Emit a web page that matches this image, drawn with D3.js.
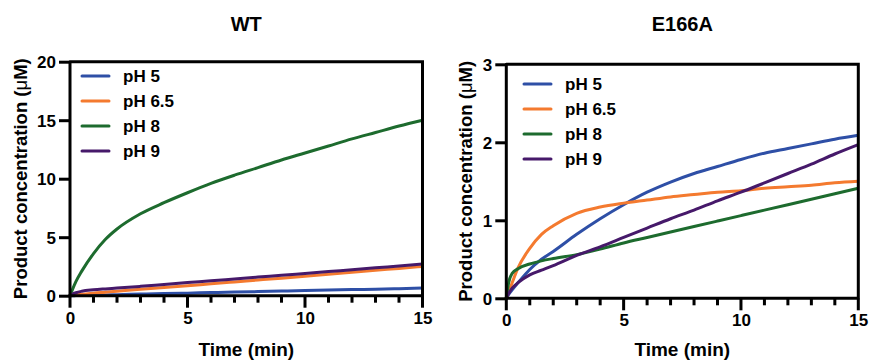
<!DOCTYPE html>
<html>
<head>
<meta charset="utf-8">
<script src="https://cdn.jsdelivr.net/npm/d3@7"></script>
<style>
  body { margin: 0; background: #fff; }
  svg { font-family: "Liberation Sans", Arial, sans-serif; }
</style>
</head>
<body>
<svg id="chart" width="869" height="363"></svg>
<script>
// sampling times (min)
const times = [0, 0.1, 0.25, 0.5, 1, 1.5, 2, 3, 4, 5, 6, 7, 8, 9, 10, 11, 12, 13, 14, 15];
const seriesNames = ["pH 5", "pH 6.5", "pH 8", "pH 9"];
const seriesColors = ["#2e4fa6", "#f47a2f", "#1d6b2e", "#46196a"];

// WT, product (uM)
const wtPH5  = [0, 0.0, 0.01, 0.02, 0.05, 0.07, 0.09, 0.14, 0.18, 0.22, 0.27, 0.31, 0.35, 0.40, 0.44, 0.48, 0.52, 0.56, 0.60, 0.65];
const wtPH65 = [0, 0.03, 0.07, 0.12, 0.22, 0.30, 0.38, 0.55, 0.70, 0.85, 1.02, 1.18, 1.34, 1.50, 1.67, 1.83, 2.00, 2.17, 2.33, 2.50];
const wtPH8  = [0, 0.5, 1.2, 2.1, 3.6, 4.8, 5.7, 7.0, 7.95, 8.8, 9.6, 10.3, 10.95, 11.6, 12.2, 12.8, 13.4, 13.95, 14.5, 15.0];
const wtPH9  = [0, 0.12, 0.25, 0.38, 0.5, 0.58, 0.65, 0.8, 0.96, 1.12, 1.27, 1.43, 1.59, 1.74, 1.9, 2.06, 2.22, 2.38, 2.54, 2.7];

// E166A, product (uM)
const mutPH5  = [0, 0.05, 0.11, 0.2, 0.37, 0.5, 0.6, 0.82, 1.02, 1.2, 1.36, 1.49, 1.6, 1.69, 1.78, 1.86, 1.92, 1.98, 2.04, 2.09];
const mutPH65 = [0, 0.08, 0.2, 0.39, 0.64, 0.82, 0.93, 1.09, 1.17, 1.22, 1.26, 1.3, 1.33, 1.36, 1.38, 1.41, 1.43, 1.45, 1.48, 1.5];
const mutPH8  = [0, 0.2, 0.32, 0.38, 0.44, 0.48, 0.51, 0.56, 0.63, 0.71, 0.78, 0.85, 0.92, 0.99, 1.06, 1.13, 1.2, 1.27, 1.34, 1.41];
const mutPH9  = [0, 0.06, 0.13, 0.2, 0.3, 0.36, 0.42, 0.55, 0.66, 0.78, 0.9, 1.02, 1.13, 1.25, 1.36, 1.48, 1.6, 1.72, 1.85, 1.97];

const xTicks = [0, 5, 10, 15];
const xMinorTicks = [1, 2, 3, 4, 6, 7, 8, 9, 11, 12, 13, 14];
const wtYTicks = [0, 5, 10, 15, 20];
const mutYTicks = [0, 1, 2, 3];

const svg = d3.select("#chart");

function drawPanel(opts) {
  const g = svg.append("g");
  const x = d3.scaleLinear().domain([0, 15]).range([opts.left, opts.right]);
  const y = d3.scaleLinear().domain([0, opts.yMax]).range([opts.bottom, opts.top]);

  const line = d3.line()
    .x((d, i) => x(times[i]))
    .y(d => y(d))
    .curve(d3.curveMonotoneX);

  opts.series.forEach((s, i) => {
    g.append("path")
      .datum(s)
      .attr("d", line)
      .attr("fill", "none")
      .attr("stroke", seriesColors[i])
      .attr("stroke-width", 3);
  });

  // frame (top + right)
  g.append("path")
    .attr("d", `M${opts.left},${opts.top}H${opts.right}V${opts.bottom}`)
    .attr("fill", "none")
    .attr("stroke", "#000")
    .attr("stroke-width", 3)
    .attr("stroke-linecap", "round");

  // x axis (labels from d3, tick marks as filled rects)
  const xAxis = g.append("g").attr("transform", `translate(0,${opts.bottom})`);
  xAxis.call(d3.axisBottom(x).tickValues(xTicks).tickSize(11).tickPadding(5));
  xAxis.select(".domain").attr("d", `M${opts.left - 1.5},0H${opts.right}`).attr("stroke-width", 3);
  xAxis.selectAll(".tick line").remove();
  xAxis.selectAll(".tick text")
    .attr("fill", "#000")
    .style("font-size", "17px")
    .style("font-weight", "bold")
    .style("font-family", "'Liberation Sans', Arial, sans-serif");
  xAxis.selectAll("rect.tk")
    .data(d3.range(0, 16))
    .join("rect")
    .attr("class", "tk")
    .attr("x", d => x(d) - 1.5)
    .attr("y", 0)
    .attr("width", 3)
    .attr("height", d => xTicks.includes(d) ? 12 : 7)
    .attr("fill", "#000");

  // y axis
  const yAxis = g.append("g").attr("transform", `translate(${opts.left},0)`);
  yAxis.call(d3.axisLeft(y).tickValues(opts.yTicks).tickSize(11).tickPadding(3).tickFormat(d3.format("d")));
  yAxis.select(".domain").attr("d", `M0,${opts.top}V${opts.bottom + 1.5}`).attr("stroke-width", 3);
  yAxis.selectAll(".tick line").remove();
  yAxis.selectAll(".tick").append("rect")
    .attr("x", -11).attr("y", -1.5)
    .attr("width", 11).attr("height", 3)
    .attr("fill", "#000");
  yAxis.selectAll(".tick text")
    .attr("dy", "0.36em")
    .style("font-size", "17px")
    .style("font-weight", "bold")
    .style("font-family", "'Liberation Sans', Arial, sans-serif")
    .attr("fill", "#000");

  // titles
  const cx = (opts.left + opts.right) / 2;
  g.append("text")
    .attr("x", cx).attr("y", 31)
    .attr("text-anchor", "middle")
    .style("font-size", "20px").style("font-weight", "bold")
    .text(opts.title);

  g.append("text")
    .attr("x", cx).attr("y", 356)
    .attr("text-anchor", "middle")
    .style("font-size", "19px").style("font-weight", "bold")
    .text("Time (min)");

  const cy = (opts.top + opts.bottom) / 2;
  const yl = g.append("text")
    .attr("transform", `translate(${opts.yLabelX},${cy}) rotate(-90)`)
    .attr("text-anchor", "middle")
    .style("font-size", "18.5px").style("font-weight", "bold");
  yl.append("tspan").text("Product concentration (");
  yl.append("tspan").style("font-weight", "normal").text("\u03bc");
  yl.append("tspan").text("M)");

  // legend
  const lg = g.append("g").attr("transform", `translate(${opts.legX},${opts.legY})`);
  seriesNames.forEach((name, i) => {
    const row = lg.append("g").attr("transform", `translate(0,${i * 25})`);
    row.append("line")
      .attr("x1", 0).attr("x2", 27)
      .attr("stroke", seriesColors[i])
      .attr("stroke-width", 3)
      .attr("stroke-linecap", "round");
    row.append("text")
      .attr("x", 41).attr("y", 0).attr("dy", "0.36em")
      .style("font-size", "17px").style("font-weight", "bold")
      .text(name);
  });
}

drawPanel({
  title: "WT", left: 70, right: 422.5, top: 61.7, bottom: 295.7,
  yMax: 20, yTicks: wtYTicks, yLabelX: 27,
  series: [wtPH5, wtPH65, wtPH8, wtPH9],
  legX: 82, legY: 76
});

drawPanel({
  title: "E166A", left: 506.3, right: 858.3, top: 64.3, bottom: 298.3,
  yMax: 3, yTicks: mutYTicks, yLabelX: 472,
  series: [mutPH5, mutPH65, mutPH8, mutPH9],
  legX: 524, legY: 84
});
</script>
</body>
</html>
